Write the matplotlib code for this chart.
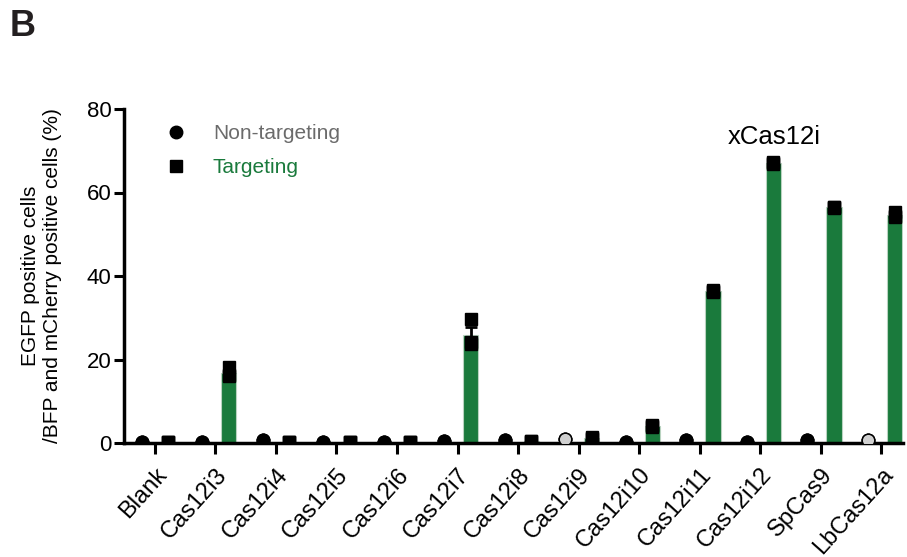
import numpy as np
import matplotlib
matplotlib.use("Agg")
import matplotlib.pyplot as plt

plt.rcParams['font.family'] = ['Liberation Sans', 'DejaVu Sans']

categories = ["Blank", "Cas12i3", "Cas12i4", "Cas12i5", "Cas12i6", "Cas12i7",
              "Cas12i8", "Cas12i9", "Cas12i10", "Cas12i11", "Cas12i12",
              "SpCas9", "LbCas12a"]

# replicate measurements (%), three per group
targeting = [
    [0.2, 0.2, 0.2],
    [18.2, 16.0, 16.3],
    [0.2, 0.2, 0.2],
    [0.2, 0.2, 0.2],
    [0.2, 0.2, 0.2],
    [29.6, 24.3, 23.8],
    [0.4, 0.4, 0.3],
    [1.5, 1.0, 1.1],
    [4.3, 4.0, 3.9],
    [36.6, 36.2, 36.4],
    [67.4, 66.9, 67.0],
    [56.5, 56.4, 56.6],
    [55.3, 54.1, 54.3],
]
non_targeting = [
    [0.3, 0.3, 0.3],
    [0.3, 0.3, 0.3],
    [0.8, 0.7, 0.8],
    [0.3, 0.3, 0.3],
    [0.3, 0.3, 0.3],
    [0.4, 0.4, 0.4],
    [0.6, 0.6, 0.6],
    [0.9, 0.9, 0.9],
    [0.3, 0.3, 0.3],
    [0.8, 0.8, 0.8],
    [0.2, 0.2, 0.2],
    [0.8, 0.8, 0.8],
    [0.6, 0.6, 0.6],
]
# groups whose non-targeting replicates appear as light grey symbols
light_nt = {"Cas12i9", "LbCas12a"}

green = "#1a7a3c"
grey_text = "#6b6b6b"

fig = plt.figure(figsize=(9.07, 5.57), dpi=100)
ax = fig.add_axes([124 / 907, (557 - 443) / 557, (903 - 124) / 907, (443 - 109) / 557])

x = np.arange(len(categories))
off = 0.22
width = 0.25

t_arr = np.array(targeting)
t_mean = t_arr.mean(axis=1)
t_sem = t_arr.std(axis=1, ddof=1) / np.sqrt(t_arr.shape[1])

ax.bar(x + off, t_mean, width=width, color=green, edgecolor="#b9d3c0",
       linewidth=0.8, zorder=2)
big = t_mean > 5
ax.errorbar((x + off)[big], t_mean[big], yerr=t_sem[big], fmt="none",
            ecolor="black", elinewidth=2, capsize=4, capthick=2, zorder=3)

for i, cat in enumerate(categories):
    ax.plot([x[i] + off] * 3, targeting[i], linestyle="none", marker="s",
            markersize=9, color="black", zorder=4)
    face = "#d0d0d0" if cat in light_nt else "black"
    ax.plot([x[i] - off] * 3, non_targeting[i], linestyle="none", marker="o",
            markersize=9, markerfacecolor=face, markeredgecolor="black",
            markeredgewidth=1.0, zorder=4)

ax.set_xlim(-0.51, 12.36)
ax.set_ylim(0, 80)
ax.set_yticks([0, 20, 40, 60, 80])
ax.set_xticks(x)
ax.set_xticklabels(categories, rotation=48, ha="right", rotation_mode="anchor",
                   fontsize=17)
ax.tick_params(axis="y", labelsize=16, width=2.2, length=7, direction="out", pad=2)
ax.tick_params(axis="x", width=2.2, length=8, direction="out", pad=7)

for s in ("top", "right"):
    ax.spines[s].set_visible(False)
for s in ("left", "bottom"):
    ax.spines[s].set_linewidth(2.5)

ax.set_ylabel("EGFP positive cells\n/BFP and mCherry positive cells (%)",
              fontsize=15, labelpad=18, linespacing=1.2)

ax.text(0.835, 0.915, "xCas12i", transform=ax.transAxes, fontsize=18.5,
        ha="center", va="center")

# legend entries
ax.plot([0.067], [0.93], transform=ax.transAxes, marker="o", markersize=9,
        color="black", linestyle="none", clip_on=False)
ax.text(0.114, 0.928, "Non-targeting", transform=ax.transAxes, fontsize=15,
        color=grey_text, va="center")
ax.plot([0.067], [0.828], transform=ax.transAxes, marker="s", markersize=8,
        color="black", linestyle="none", clip_on=False)
ax.text(0.114, 0.826, "Targeting", transform=ax.transAxes, fontsize=15,
        color=green, va="center")

fig.text(10 / 907, 1 - 27 / 557, "B", fontsize=26, fontweight="bold",
         color="#231f20", va="center", ha="left")

fig.savefig("out.png", dpi=100)
